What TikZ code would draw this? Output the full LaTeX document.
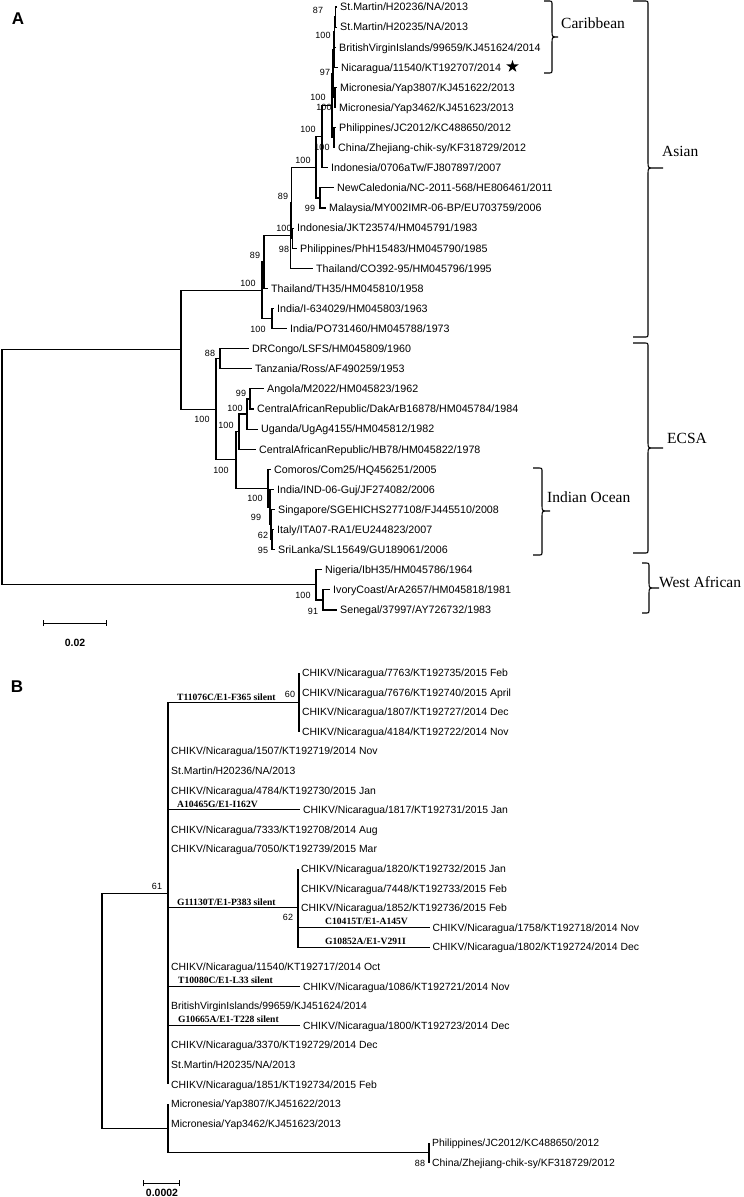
\documentclass[tikz,border=0pt]{standalone}
\usepackage{fontspec}
\setmainfont{Liberation Sans}
\newfontfamily\timesfont{Liberation Serif}
\usetikzlibrary{arrows.meta,shapes.geometric}

\tikzset{
  branch/.style={line width=1.1pt},
  bracket/.style={line width=1.1pt},
  taxA/.style={anchor=west,inner xsep=3pt,inner ysep=0pt,text height=7.7pt,text depth=0pt,font=\fontsize{10.7}{12}\selectfont},
  taxB/.style={anchor=west,inner xsep=3pt,inner ysep=0pt,text height=7.5pt,text depth=0pt,font=\fontsize{10.4}{12}\selectfont},
  boot/.style={inner sep=0pt,font=\fontsize{9}{10}\selectfont},
  mutation/.style={anchor=base west,inner sep=0pt,font=\timesfont\bfseries\fontsize{9.6}{10}\selectfont},
  clade/.style={anchor=west,inner sep=0pt,font=\timesfont\fontsize{15.5}{17}\selectfont},
  panel/.style={inner sep=0pt,font=\bfseries\fontsize{17}{19}\selectfont},
  scalebar/.style={line width=1pt,{Bar[width=6pt]}-{Bar[width=6pt]}},
  scaletext/.style={inner sep=0pt,font=\bfseries\fontsize{10.5}{12}\selectfont}
}

\newcommand{\cladebrace}[6]{%
  \draw[bracket] (#1,#4) -- (#2-4,#4) .. controls (#2,#4) .. (#2,#4+4)
    -- (#2,#5-6) .. controls (#2,#5) .. (#2+6,#5) -- (#3,#5) -- (#2+6,#5)
    .. controls (#2,#5) .. (#2,#5+6)
    -- (#2,#6-4) .. controls (#2,#6) .. (#2-4,#6) -- (#1,#6);}

\begin{document}
\begin{tikzpicture}[x=1pt,y=-1pt]
\useasboundingbox (0,0) rectangle (744,1197);

\node[panel] (pA) at (18,19) {A};
\node[panel] (pB) at (17,687) {B};

\node[taxA] (A0) at (337,7) {St.Martin/H20236/NA/2013};
\node[taxA] (A1) at (337,27.1) {St.Martin/H20235/NA/2013};
\node[taxA] (A2) at (336,47.2) {BritishVirginIslands/99659/KJ451624/2014};
\node[taxA] (A3) at (338,67.3) {Nicaragua/11540/KT192707/2014};
\node[taxA] (A4) at (337,87.4) {Micronesia/Yap3807/KJ451622/2013};
\node[taxA] (A5) at (336,107.5) {Micronesia/Yap3462/KJ451623/2013};
\node[taxA] (A6) at (336,127.6) {Philippines/JC2012/KC488650/2012};
\node[taxA] (A7) at (335,147.7) {China/Zhejiang-chik-sy/KF318729/2012};
\node[taxA] (A8) at (328,167.8) {Indonesia/0706aTw/FJ807897/2007};
\node[taxA] (A9) at (334,187.9) {NewCaledonia/NC-2011-568/HE806461/2011};
\node[taxA] (A10) at (326,208) {Malaysia/MY002IMR-06-BP/EU703759/2006};
\node[taxA] (A11) at (294,228.1) {Indonesia/JKT23574/HM045791/1983};
\node[taxA] (A12) at (297,248.2) {Philippines/PhH15483/HM045790/1985};
\node[taxA] (A13) at (313,268.3) {Thailand/CO392-95/HM045796/1995};
\node[taxA] (A14) at (268,288.4) {Thailand/TH35/HM045810/1958};
\node[taxA] (A15) at (274,308.5) {India/I-634029/HM045803/1963};
\node[taxA] (A16) at (287,328.6) {India/PO731460/HM045788/1973};
\node[taxA] (A17) at (249,348.7) {DRCongo/LSFS/HM045809/1960};
\node[taxA] (A18) at (252,368.8) {Tanzania/Ross/AF490259/1953};
\node[taxA] (A19) at (264,388.9) {Angola/M2022/HM045823/1962};
\node[taxA] (A20) at (254,409) {CentralAfricanRepublic/DakArB16878/HM045784/1984};
\node[taxA] (A21) at (258,429.1) {Uganda/UgAg4155/HM045812/1982};
\node[taxA] (A22) at (256,449.2) {CentralAfricanRepublic/HB78/HM045822/1978};
\node[taxA] (A23) at (271,469.3) {Comoros/Com25/HQ456251/2005};
\node[taxA] (A24) at (274,489.4) {India/IND-06-Guj/JF274082/2006};
\node[taxA] (A25) at (275,509.5) {Singapore/SGEHICHS277108/FJ445510/2008};
\node[taxA] (A26) at (274,529.6) {Italy/ITA07-RA1/EU244823/2007};
\node[taxA] (A27) at (275,549.7) {SriLanka/SL15649/GU189061/2006};
\node[taxA] (A28) at (322,569.8) {Nigeria/IbH35/HM045786/1964};
\node[taxA] (A29) at (330,589.9) {IvoryCoast/ArA2657/HM045818/1981};
\node[taxA] (A30) at (337,610) {Senegal/37997/AY726732/1983};

\node[star,star points=5,star point ratio=2.6,fill,inner sep=0pt,minimum size=13pt] (nicstar) at (512.5,66.5) {};

\coordinate (rootA) at (2,467.4);
\coordinate (asec) at (181,349.8);
\coordinate (asian) at (262,290.3);
\coordinate (a89b) at (264,262);
\coordinate (a100f) at (290.8,235.5);
\coordinate (a89) at (291.5,202.7);
\coordinate (a98) at (292.2,238.2);
\coordinate (a100e) at (316,167.3);
\coordinate (a100d) at (322,136.7);
\coordinate (a99) at (320,198);
\coordinate (a100c) at (332,105.6);
\coordinate (a100p) at (334,137.7);
\coordinate (a100b) at (333,73.6);
\coordinate (a100m) at (335,97.5);
\coordinate (a97) at (334,49.7);
\coordinate (a100a) at (334.5,32);
\coordinate (a87) at (335.5,17);
\coordinate (aind) at (272,318.5);
\coordinate (ecsa) at (216,409.3);
\coordinate (a88) at (220,358.8);
\coordinate (a100w) at (236,459.9);
\coordinate (a100v) at (239,431.6);
\coordinate (a100u) at (247,414);
\coordinate (a99e) at (250,399);
\coordinate (indoc) at (268,488.2);
\coordinate (io2) at (270,507);
\coordinate (io99) at (271,524.6);
\coordinate (io62) at (272,539.7);
\coordinate (westaf) at (316,584.9);
\coordinate (a91) at (323,600);

\draw[branch] (rootA) |- (asec) (rootA) |- (westaf);
\draw[branch] (asec) |- (asian) (asec) |- (ecsa);
\draw[branch] (asian) |- (a89b) (asian) |- (aind);
\draw[branch] (aind) |- (A15.west) (aind) |- (A16.west);
\draw[branch] (a89b) |- (a100f) (a89b) |- (A14.west);
\draw[branch] (a100f) |- (a89) (a100f) |- (A13.west);
\draw[branch] (a89) |- (a100e) (a89) |- (a98);
\draw[branch] (a98) |- (A11.west) (a98) |- (A12.west);
\draw[branch] (a100e) |- (a100d) (a100e) |- (a99);
\draw[branch] (a99) |- (A9.west) (a99) |- (A10.west);
\draw[branch] (a100d) |- (a100c) (a100d) |- (A8.west);
\draw[branch] (a100c) |- (a100b) (a100c) |- (a100p);
\draw[branch] (a100p) |- (A6.west) (a100p) |- (A7.west);
\draw[branch] (a100b) |- (a97) (a100b) |- (a100m);
\draw[branch] (a100m) |- (A4.west) (a100m) |- (A5.west);
\draw[branch] (a97) |- (a100a) (a97) |- (A3.west);
\draw[branch] (a100a) |- (a87) (a100a) |- (A2.west);
\draw[branch] (a87) |- (A0.west) (a87) |- (A1.west);
\draw[branch] (ecsa) |- (a88) (ecsa) |- (a100w);
\draw[branch] (a88) |- (A17.west) (a88) |- (A18.west);
\draw[branch] (a100w) |- (a100v) (a100w) |- (indoc);
\draw[branch] (a100v) |- (a100u) (a100v) |- (A22.west);
\draw[branch] (a100u) |- (a99e) (a100u) |- (A21.west);
\draw[branch] (a99e) |- (A19.west) (a99e) |- (A20.west);
\draw[branch] (indoc) |- (A23.west) (indoc) |- (io2);
\draw[branch] (io2) |- (A24.west) (io2) |- (io99);
\draw[branch] (io99) |- (A25.west) (io99) |- (io62);
\draw[branch] (io62) |- (A26.west) (io62) |- (A27.west);
\draw[branch] (westaf) |- (A28.west) (westaf) |- (a91);
\draw[branch] (a91) |- (A29.west) (a91) |- (A30.west);

\node[boot] (bA1) at (318,10) {87};
\node[boot] (bA2) at (323,35) {100};
\node[boot] (bA3) at (325,72) {97};
\node[boot] (bA4) at (318,97) {100};
\node[boot] (bA5) at (324,107) {100};
\node[boot] (bA6) at (308,129) {100};
\node[boot] (bA7) at (322,147) {100};
\node[boot] (bA8) at (303,160) {100};
\node[boot] (bA9) at (283,196) {89};
\node[boot] (bA10) at (310,208) {99};
\node[boot] (bA11) at (284,228) {100};
\node[boot] (bA12) at (284,249) {98};
\node[boot] (bA13) at (255,255) {89};
\node[boot] (bA14) at (248,283) {100};
\node[boot] (bA15) at (258,329) {100};
\node[boot] (bA16) at (210,353) {88};
\node[boot] (bA17) at (241,393) {99};
\node[boot] (bA18) at (235,408) {100};
\node[boot] (bA19) at (202,419) {100};
\node[boot] (bA20) at (226,425) {100};
\node[boot] (bA21) at (221,470) {100};
\node[boot] (bA22) at (255,498) {100};
\node[boot] (bA23) at (256,517) {99};
\node[boot] (bA24) at (263,535) {62};
\node[boot] (bA25) at (263,550) {95};
\node[boot] (bA26) at (303,595) {100};
\node[boot] (bA27) at (313,611) {91};

\cladebrace{544}{552}{558}{1}{37}{73}
\cladebrace{633}{648}{663}{1}{168}{337}
\cladebrace{633}{648}{663}{343}{448}{553}
\cladebrace{533}{542}{550}{468}{511}{555}
\cladebrace{642}{649}{659}{563}{588}{613}
\node[clade] (carib) at (561,23) {Caribbean};
\node[clade] (asianlab) at (662,151) {Asian};
\node[clade] (ecsalab) at (667,438) {ECSA};
\node[clade] (indlab) at (547,497) {Indian Ocean};
\node[clade] (walab) at (659,582) {West African};

\coordinate (sa0) at (43,623);
\coordinate (sa1) at (107,623);
\draw[scalebar] (sa0) -- (sa1);
\node[scaletext] (salab) at (75,643) {0.02};

\node[taxB] (B0) at (299,672.7) {CHIKV/Nicaragua/7763/KT192735/2015 Feb};
\node[taxB] (B1) at (299,692.3) {CHIKV/Nicaragua/7676/KT192740/2015 April};
\node[taxB] (B2) at (299,711.9) {CHIKV/Nicaragua/1807/KT192727/2014 Dec};
\node[taxB] (B3) at (299,731.5) {CHIKV/Nicaragua/4184/KT192722/2014 Nov};
\node[taxB] (B4) at (168,751.1) {CHIKV/Nicaragua/1507/KT192719/2014 Nov};
\node[taxB] (B5) at (168,770.7) {St.Martin/H20236/NA/2013};
\node[taxB] (B6) at (168,790.3) {CHIKV/Nicaragua/4784/KT192730/2015 Jan};
\node[taxB] (B7) at (300,809.9) {CHIKV/Nicaragua/1817/KT192731/2015 Jan};
\node[taxB] (B8) at (168,829.5) {CHIKV/Nicaragua/7333/KT192708/2014 Aug};
\node[taxB] (B9) at (168,849.1) {CHIKV/Nicaragua/7050/KT192739/2015 Mar};
\node[taxB] (B10) at (298,868.7) {CHIKV/Nicaragua/1820/KT192732/2015 Jan};
\node[taxB] (B11) at (298,888.3) {CHIKV/Nicaragua/7448/KT192733/2015 Feb};
\node[taxB] (B12) at (298,907.9) {CHIKV/Nicaragua/1852/KT192736/2015 Feb};
\node[taxB] (B13) at (429.5,927.5) {CHIKV/Nicaragua/1758/KT192718/2014 Nov};
\node[taxB] (B14) at (429.5,947.1) {CHIKV/Nicaragua/1802/KT192724/2014 Dec};
\node[taxB] (B15) at (168,966.7) {CHIKV/Nicaragua/11540/KT192717/2014 Oct};
\node[taxB] (B16) at (300,986.3) {CHIKV/Nicaragua/1086/KT192721/2014 Nov};
\node[taxB] (B17) at (168,1005.9) {BritishVirginIslands/99659/KJ451624/2014};
\node[taxB] (B18) at (300,1025.5) {CHIKV/Nicaragua/1800/KT192723/2014 Dec};
\node[taxB] (B19) at (168,1045.1) {CHIKV/Nicaragua/3370/KT192729/2014 Dec};
\node[taxB] (B20) at (168,1064.7) {St.Martin/H20235/NA/2013};
\node[taxB] (B21) at (168,1084.3) {CHIKV/Nicaragua/1851/KT192734/2015 Feb};
\node[taxB] (B22) at (168,1103.9) {Micronesia/Yap3807/KJ451622/2013};
\node[taxB] (B23) at (168,1123.5) {Micronesia/Yap3462/KJ451623/2013};
\node[taxB] (B24) at (429,1143.1) {Philippines/JC2012/KC488650/2012};
\node[taxB] (B25) at (429,1162.7) {China/Zhejiang-chik-sy/KF318729/2012};

\coordinate (rootB) at (102,1010.8);
\coordinate (b61) at (168,893.2);
\coordinate (bmic) at (168,1128.4);
\coordinate (b60) at (299,702.1);
\coordinate (b62) at (298,907.9);
\coordinate (b88) at (429,1152.9);

\draw[branch] (rootB) |- (b61) (rootB) |- (bmic);
\draw[branch] (b61) |- (b60) (b61) |- (B4.west) (b61) |- (B5.west) (b61) |- (B6.west)
  (b61) |- (B7.west) (b61) |- (B8.west) (b61) |- (B9.west) (b61) |- (b62)
  (b61) |- (B15.west) (b61) |- (B16.west) (b61) |- (B17.west) (b61) |- (B18.west)
  (b61) |- (B19.west) (b61) |- (B20.west) (b61) |- (B21.west);
\draw[branch] (b60) |- (B0.west) (b60) |- (B1.west) (b60) |- (B2.west) (b60) |- (B3.west);
\draw[branch] (b62) |- (B10.west) (b62) |- (B11.west) (b62) |- (B12.west)
  (b62) |- (B13.west) (b62) |- (B14.west);
\draw[branch] (bmic) |- (B22.west) (bmic) |- (B23.west) (bmic) |- (b88);
\draw[branch] (b88) |- (B24.west) (b88) |- (B25.west);

\node[boot] (bB1) at (157,886) {61};
\node[boot] (bB2) at (290,694) {60};
\node[boot] (bB3) at (288,917) {62};
\node[boot] (bB4) at (420,1163) {88};

\node[mutation] (mut1) at (177,700) {T11076C/E1-F365 silent};
\node[mutation] (mut2) at (177,807) {A10465G/E1-I162V};
\node[mutation] (mut3) at (177,905) {G11130T/E1-P383 silent};
\node[mutation] (mut4) at (325,924.5) {C10415T/E1-A145V};
\node[mutation] (mut5) at (325,944) {G10852A/E1-V291I};
\node[mutation] (mut6) at (178,983) {T10080C/E1-L33 silent};
\node[mutation] (mut7) at (178,1022.5) {G10665A/E1-T228 silent};

\coordinate (sb0) at (143.3,1183.3);
\coordinate (sb1) at (180,1183.3);
\draw[scalebar] (sb0) -- (sb1);
\node[scaletext] (sblab) at (162,1192.5) {0.0002};
\end{tikzpicture}
\end{document}
